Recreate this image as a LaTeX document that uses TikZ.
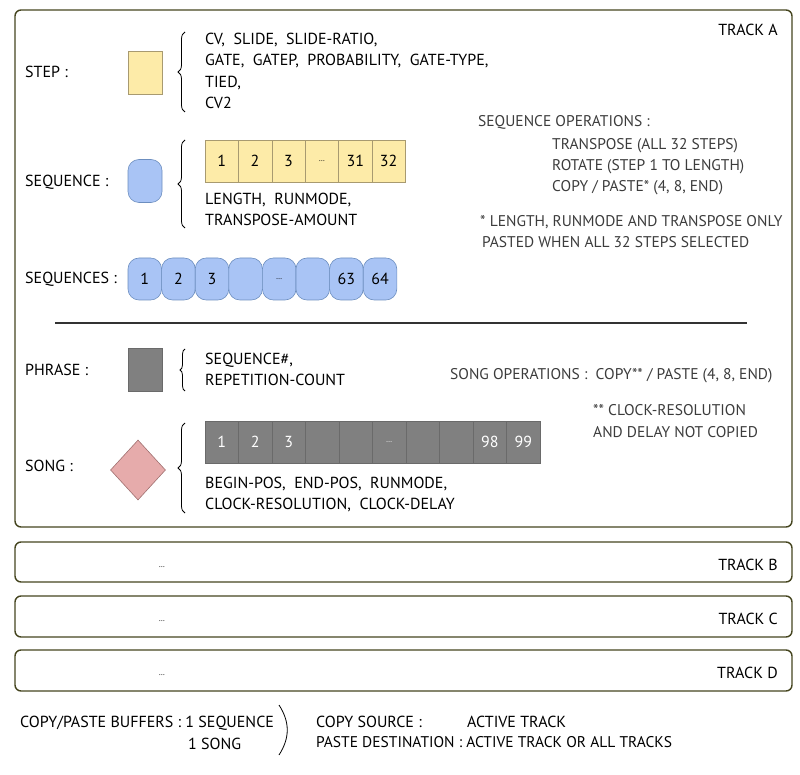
\documentclass[tikz,border=0pt]{standalone}
\usepackage{fontspec}
\setmainfont{PT Sans}
\usepackage{xcolor}
\usepackage{tikz}
\usetikzlibrary{shapes.geometric,decorations.pathreplacing}

\definecolor{trackline}{HTML}{45451F}
\definecolor{stepfill}{HTML}{FDEBA8}
\definecolor{stepline}{HTML}{A89A70}
\definecolor{seqfill}{HTML}{A9C4F5}
\definecolor{seqline}{HTML}{6C8EBF}
\definecolor{phrfill}{HTML}{808080}
\definecolor{phrline}{HTML}{6A6A6A}
\definecolor{songfill}{HTML}{E6ABAB}
\definecolor{songline}{HTML}{A07070}
\definecolor{notegray}{HTML}{3C3C3C}

\tikzset{
  track/.style={draw=trackline,line width=1.4pt,rounded corners=6pt},
  txt/.style={anchor=base west,inner sep=0pt},
  rtxt/.style={anchor=base east,inner sep=0pt},
  note/.style={txt,text=notegray,font=\fontsize{15.5}{18}\selectfont},
  stepcell/.style={draw=stepline,fill=stepfill,line width=0.6pt,anchor=north west,
    minimum width=33.4pt,minimum height=42pt,inner sep=0pt,outer sep=0pt},
  seqcell/.style={draw=seqline,fill=seqfill,line width=0.6pt,anchor=north west,
    rounded corners=11pt,minimum width=33.6pt,minimum height=42pt,inner sep=0pt,outer sep=0pt},
  songcell/.style={draw=phrline,fill=phrfill,text=white,line width=0.6pt,anchor=north west,
    minimum width=33.5pt,minimum height=42pt,inner sep=0pt,outer sep=0pt},
  curly/.style={decorate,decoration={brace,amplitude=7pt},line width=0.8pt},
}
\newcommand{\dotcell}{{\fontsize{8}{8}\selectfont …}}

\begin{document}
\begin{tikzpicture}[x=1pt,y=-1pt,font=\fontsize{16}{18}\selectfont]
  \useasboundingbox (0,0) rectangle (800,775);

  % tracks
  \draw[track] (15,10) rectangle (792,527);
  \draw[track] (15,542) rectangle (792,582);
  \draw[track] (15,596) rectangle (792,637);
  \draw[track] (15,650) rectangle (792,691);
  \node[rtxt] (trka) at (778,36) {TRACK A};
  \node[rtxt] (trkb) at (778,570) {TRACK B};
  \node[rtxt] (trkc) at (778,624) {TRACK C};
  \node[rtxt] (trkd) at (778,678) {TRACK D};
  \node[inner sep=0pt] (dotb) at (162,567) {\dotcell};
  \node[inner sep=0pt] (dotc) at (162,621) {\dotcell};
  \node[inner sep=0pt] (dotd) at (162,675) {\dotcell};

  % step
  \node[txt] (steplab) at (25,78) {STEP :};
  \node[draw=stepline,fill=stepfill,line width=0.6pt,minimum width=34pt,minimum height=43pt] (stepbox) at (145,73) {};
  \draw[curly] (185,112) -- (185,32);
  \node[txt] (stepa) at (205,45) {CV,\ \ SLIDE,\ \ SLIDE-RATIO,};
  \node[txt] (stepb) at (205,66) {GATE,\ \ GATEP,\ \ PROBABILITY,\ \ GATE-TYPE,};
  \node[txt] (stepc) at (205,88) {TIED,};
  \node[txt] (stepd) at (205,109) {CV2};

  % sequence
  \node[txt] (seqlab) at (25,187) {SEQUENCE :};
  \node[draw=seqline,fill=seqfill,line width=0.6pt,rounded corners=11pt,minimum width=34pt,minimum height=43pt] (seqbox) at (145,181) {};
  \draw[curly] (185,228) -- (185,140);
  \foreach \lab [count=\i] in {1,2,3,\dotcell,31,32}
    \node[stepcell] (stp-\i) at ({205+33.4*(\i-1)},140) {\lab};
  \node[txt] (seqa) at (205,205) {LENGTH,\ \ RUNMODE,};
  \node[txt] (seqb) at (205,226) {TRANSPOSE-AMOUNT};

  % sequence operations
  \node[note] (seqops) at (478,127) {SEQUENCE OPERATIONS :};
  \node[note] (seqopa) at (552,150) {TRANSPOSE (ALL 32 STEPS)};
  \node[note] (seqopb) at (552,171) {ROTATE (STEP 1 TO LENGTH)};
  \node[note] (seqopc) at (552,192) {COPY / PASTE* (4, 8, END)};
  \node[note] (seqfna) at (480,227) {* LENGTH, RUNMODE AND TRANSPOSE ONLY};
  \node[note] (seqfnb) at (482,248) {PASTED WHEN ALL 32 STEPS SELECTED};

  % sequences
  \node[txt] (seqslab) at (25,284) {SEQUENCES :};
  \foreach \lab [count=\i] in {1,2,3,,\dotcell,,63,64}
    \node[seqcell] (sq-\i) at ({128+33.6*(\i-1)},258) {\lab};

  \draw[line width=1.2pt,black!80] (55,323) -- (747,323);

  % phrase
  \node[txt] (phrlab) at (25,375) {PHRASE :};
  \node[draw=phrline,fill=phrfill,line width=0.6pt,minimum width=34pt,minimum height=43pt] (phrbox) at (145,370) {};
  \draw[curly,decoration={brace,amplitude=5pt}] (185,391) -- (185,349);
  \node[txt] (phra) at (205,364) {SEQUENCE\#,};
  \node[txt] (phrb) at (205,385) {REPETITION-COUNT};

  % song operations
  \node[note] (songops) at (450,379) {SONG OPERATIONS :\ \ COPY** / PASTE (4, 8, END)};
  \node[note] (songfna) at (593,415) {** CLOCK-RESOLUTION};
  \node[note] (songfnb) at (593,437) {AND DELAY NOT COPIED};

  % song
  \node[txt] (songlab) at (25,471) {SONG :};
  \node[draw=songline,fill=songfill,line width=0.6pt,diamond,minimum width=55pt,minimum height=60pt,inner sep=0pt] (songbox) at (138,470) {};
  \draw[curly] (185,513) -- (185,423);
  \foreach \lab [count=\i] in {1,2,3,,,\dotcell,,,98,99}
    \node[songcell] (sg-\i) at ({205+33.5*(\i-1)},421) {\lab};
  \node[txt] (songa) at (205,488) {BEGIN-POS,\ \ END-POS,\ \ RUNMODE,};
  \node[txt] (songb) at (205,509) {CLOCK-RESOLUTION,\ \ CLOCK-DELAY};

  % copy / paste buffers
  \node[txt] (bufa) at (20,727) {COPY/PASTE BUFFERS : 1 SEQUENCE};
  \node[txt] (bufb) at (188,749) {1 SONG};
  \coordinate (brtop) at (279,705);
  \coordinate (brbot) at (279,755);
  \draw[line width=0.8pt] (brtop) .. controls (290,722) and (290,738) .. (brbot);
  \node[txt] (srclab) at (316,727) {COPY SOURCE :};
  \node[txt] (srcval) at (467,727) {ACTIVE TRACK};
  \node[txt,font=\fontsize{15.5}{18}\selectfont] (dstlab) at (316,747) {PASTE DESTINATION : ACTIVE TRACK OR ALL TRACKS};
\end{tikzpicture}
\end{document}
